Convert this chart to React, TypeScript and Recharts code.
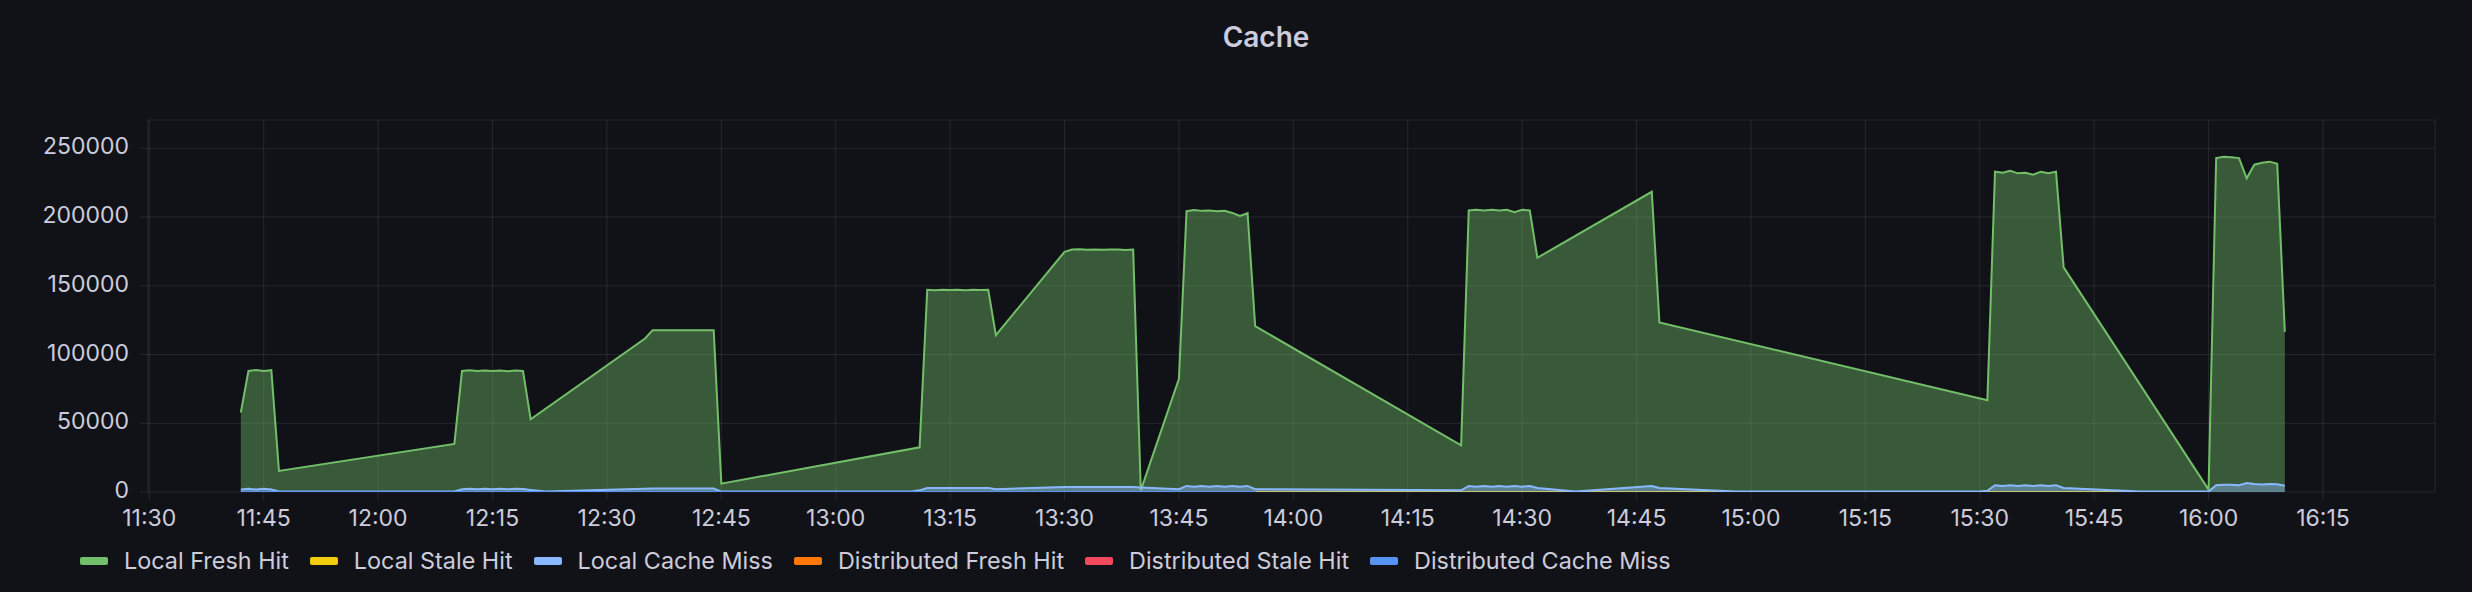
import React from 'react';
import { ComposedChart, Area, XAxis, YAxis, CartesianGrid } from 'recharts';

// ---- data ----
const localFreshHitTimes = [
  '11:42', '11:43', '11:44', '11:45', '11:46', '11:47',
  '12:10', '12:11', '12:12', '12:13', '12:14', '12:15', '12:16', '12:17', '12:18', '12:19', '12:20',
  '12:35', '12:36', '12:37', '12:38', '12:39', '12:40', '12:41', '12:42', '12:43', '12:44', '12:45',
  '13:11', '13:12', '13:13', '13:14', '13:15', '13:16', '13:17', '13:18', '13:19', '13:20', '13:21',
  '13:30', '13:31', '13:32', '13:33', '13:34', '13:35', '13:36', '13:37', '13:38', '13:39', '13:40',
  '13:45', '13:46', '13:47', '13:48', '13:49', '13:50', '13:51', '13:52', '13:53', '13:54', '13:55',
  '14:22', '14:23', '14:24', '14:25', '14:26', '14:27', '14:28', '14:29', '14:30', '14:31', '14:32',
  '14:47', '14:48',
  '15:31', '15:32', '15:33', '15:34', '15:35', '15:36', '15:37', '15:38', '15:39', '15:40', '15:41',
  '16:00', '16:01', '16:02', '16:03', '16:04', '16:05', '16:06', '16:07', '16:08', '16:09', '16:10',
];
const localFreshHitValues = [
  57800, 88100, 88700, 88000, 88600, 15300,
  35000, 88100, 88500, 88000, 88400, 88000, 88300, 87900, 88300, 88100, 52900,
  111700, 117700, 117700, 117600, 117700, 117700, 117600, 117700, 117700, 117700, 6100,
  32500, 147100, 146800, 147200, 146900, 147200, 146800, 147200, 146900, 147100, 114100,
  174700, 176400, 176600, 176300, 176400, 176300, 176400, 176400, 176100, 176400, 1200,
  82300, 204300, 205200, 204500, 204700, 204300, 204600, 203000, 200800, 202800, 120600,
  34000, 204800, 205300, 204800, 205300, 204800, 205300, 203600, 205300, 204800, 170400,
  218400, 123300,
  66800, 233000, 232200, 233700, 231800, 232200, 230800, 233000, 231800, 233000, 163400,
  1700, 242900, 243900, 243500, 242900, 228200, 238100, 239500, 240300, 238800, 116500,
];

const localCacheMissTimes = [
  '11:42', '11:43', '11:44', '11:45', '11:46', '11:47',
  '12:10', '12:11', '12:12', '12:13', '12:14', '12:15', '12:16', '12:17', '12:18', '12:19', '12:20', '12:22',
  '12:35', '12:36', '12:40', '12:44', '12:45',
  '13:10', '13:11', '13:12', '13:14', '13:16', '13:18', '13:20', '13:21',
  '13:30', '13:35', '13:39', '13:40', '13:45',
  '13:46', '13:47', '13:48', '13:49', '13:50', '13:51', '13:52', '13:53', '13:54', '13:55',
  '14:22', '14:23', '14:24', '14:25', '14:26', '14:27', '14:28', '14:29', '14:30', '14:31', '14:32',
  '14:37', '14:47', '14:48', '14:58',
  '15:30', '15:31', '15:32', '15:33', '15:34', '15:35', '15:36', '15:37', '15:38', '15:39', '15:40', '15:41', '15:51',
  '16:00', '16:01', '16:02', '16:03', '16:04', '16:05', '16:06', '16:07', '16:08', '16:09', '16:10',
];
const localCacheMissValues = [
  1800, 2300, 1900, 2300, 1800, 300,
  400, 2000, 2400, 2000, 2400, 2000, 2400, 2000, 2400, 2200, 1500, 300,
  2300, 2500, 2500, 2500, 300,
  300, 1200, 2900, 3000, 2900, 3000, 2900, 2000,
  3600, 3700, 3600, 3300, 2000,
  4400, 3900, 4400, 3900, 4400, 3900, 4400, 3900, 4400, 2000,
  1200, 4400, 3900, 4400, 3900, 4400, 3900, 4400, 3900, 4400, 2900,
  300, 4400, 2900, 300,
  300, 900, 4900, 4400, 4900, 4400, 4900, 4400, 4900, 4400, 4900, 2900, 300,
  300, 4900, 5200, 5300, 5000, 6500, 5800, 5400, 5900, 5600, 4600,
];

const localStaleHitTimes = ['13:55', '16:00'];
const localStaleHitValues = [0, 0];

const distributedTimes = ['11:42', '13:55'];
const distributedFreshHitValues = [0, 0];
const distributedStaleHitValues = [0, 0];
const distributedCacheMissValues = [0, 0];

const xTickLabels = [
  '11:30', '11:45', '12:00', '12:15', '12:30', '12:45', '13:00', '13:15', '13:30', '13:45',
  '14:00', '14:15', '14:30', '14:45', '15:00', '15:15', '15:30', '15:45', '16:00', '16:15',
];
const yTicks = [0, 50000, 100000, 150000, 200000, 250000];

const seriesNames = [
  'Local Fresh Hit',
  'Local Stale Hit',
  'Local Cache Miss',
  'Distributed Fresh Hit',
  'Distributed Stale Hit',
  'Distributed Cache Miss',
];
const seriesColors = ['#73BF69', '#F2CC0C', '#8AB8FF', '#FF780A', '#F2495C', '#5794F2'];

// ---- helpers ----
const toMin = (s: string) => {
  const [h, m] = s.split(':').map(Number);
  return h * 60 + m;
};
const fmt = (v: number) => {
  const h = Math.floor(v / 60);
  const m = Math.round(v - h * 60);
  return `${h}:${String(m).padStart(2, '0')}`;
};

const seriesSources: { key: string; times: string[]; values: number[] }[] = [
  { key: 's0', times: localFreshHitTimes, values: localFreshHitValues },
  { key: 's1', times: localStaleHitTimes, values: localStaleHitValues },
  { key: 's2', times: localCacheMissTimes, values: localCacheMissValues },
  { key: 's3', times: distributedTimes, values: distributedFreshHitValues },
  { key: 's4', times: distributedTimes, values: distributedStaleHitValues },
  { key: 's5', times: distributedTimes, values: distributedCacheMissValues },
];

const buildRows = () => {
  const map = new Map<number, Record<string, number | null>>();
  seriesSources.forEach((s) => {
    s.times.forEach((t, i) => {
      const m = toMin(t);
      if (!map.has(m)) {
        const row: Record<string, number | null> = { t: m };
        seriesSources.forEach((ss) => (row[ss.key] = null));
        map.set(m, row);
      }
      map.get(m)![s.key] = s.values[i];
    });
  });
  return Array.from(map.values()).sort((a, b) => (a.t as number) - (b.t as number));
};
const rows = buildRows();

const xTicks = xTickLabels.map(toMin);
const X_DOMAIN: [number, number] = [689.83, 989.69];
const Y_DOMAIN: [number, number] = [0, 270600];

const GRID = 'rgba(240,250,255,0.09)';
const TEXT = '#ccccdc';
const FONT = 'Inter, "Noto Sans", sans-serif';

export default function App() {
  return (
    <div
      style={{
        position: 'fixed',
        left: 0,
        top: 0,
        width: 2472,
        height: 592,
        background: '#111217',
        fontFamily: FONT,
        overflow: 'hidden',
      }}
    >
      <div
        style={{
          position: 'absolute',
          left: 1266,
          top: 20,
          transform: 'translateX(-50%)',
          color: TEXT,
          fontSize: 28,
          fontWeight: 600,
          lineHeight: 'normal',
          whiteSpace: 'nowrap',
        }}
      >
        Cache
      </div>
      <div style={{ position: 'absolute', left: 0, top: 0 }}>
        <ComposedChart
          width={2472}
          height={592}
          data={rows}
          margin={{ top: 120, right: 37, bottom: 40, left: 8 }}
        >
          <CartesianGrid stroke={GRID} strokeWidth={1} />
          <XAxis
            dataKey="t"
            type="number"
            scale="linear"
            domain={X_DOMAIN}
            allowDataOverflow
            ticks={xTicks}
            tickFormatter={fmt}
            height={60}
            axisLine={false}
            tickLine={{ stroke: GRID }}
            tickSize={8}
            tickMargin={10}
            interval={0}
            tick={{ fill: TEXT, fontSize: 23, fontFamily: FONT }}
          />
          <YAxis
            type="number"
            domain={Y_DOMAIN}
            allowDataOverflow
            ticks={yTicks}
            width={140}
            axisLine={false}
            tickLine={{ stroke: GRID }}
            tickSize={8}
            tickMargin={11}
            interval={0}
            tick={{ fill: TEXT, fontSize: 23, fontFamily: FONT, dy: -2 }}
          />
          {seriesSources.map((s, i) => (
            <Area
              key={s.key}
              dataKey={s.key}
              name={seriesNames[i]}
              type="linear"
              stroke={seriesColors[i]}
              strokeWidth={2}
              fill={seriesColors[i]}
              fillOpacity={0.42}
              connectNulls
              dot={false}
              activeDot={false}
              isAnimationActive={false}
            />
          ))}
        </ComposedChart>
      </div>
      <div
        style={{
          position: 'absolute',
          left: 80,
          top: 546,
          display: 'flex',
          alignItems: 'center',
          fontSize: 23.4,
          lineHeight: 'normal',
          color: TEXT,
          whiteSpace: 'nowrap',
        }}
      >
        {seriesNames.map((n, i) => (
          <div key={n} style={{ display: 'flex', alignItems: 'center', marginRight: 21 }}>
            <div
              style={{
                width: 28,
                height: 8,
                borderRadius: 2,
                background: seriesColors[i],
                marginRight: 16,
              }}
            />
            <span>{n}</span>
          </div>
        ))}
      </div>
    </div>
  );
}
